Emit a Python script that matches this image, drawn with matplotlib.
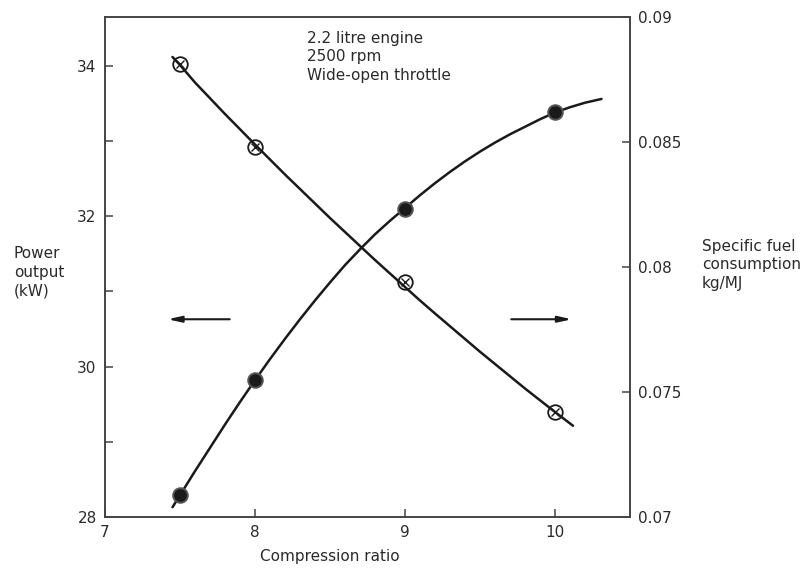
import matplotlib
matplotlib.use("Agg")
import matplotlib.pyplot as plt

# Measured points
compression_ratio = [7.5, 8.0, 9.0, 10.0]
power_kw = [28.29, 29.82, 32.10, 33.39]
sfc_kg_per_mj = [0.0881, 0.0848, 0.0794, 0.0742]

# Faired curves through the measurements
power_curve_x = [7.45, 7.5, 7.6, 7.7, 7.8, 7.9, 8.0, 8.1, 8.2, 8.3, 8.4, 8.5, 8.6, 8.7,
                 8.8, 8.9, 9.0, 9.1, 9.2, 9.3, 9.4, 9.5, 9.6, 9.7, 9.8, 9.9, 10.0,
                 10.1, 10.2, 10.31]
power_curve_y = [28.13, 28.29, 28.61, 28.92, 29.23, 29.53, 29.82, 30.10, 30.37, 30.63,
                 30.88, 31.12, 31.35, 31.56, 31.76, 31.94, 32.11, 32.28, 32.44, 32.59,
                 32.73, 32.86, 32.98, 33.09, 33.19, 33.29, 33.38, 33.45, 33.51, 33.56]
sfc_curve_x = [7.45, 7.5, 7.6, 7.7, 7.8, 7.9, 8.0, 8.1, 8.2, 8.3, 8.4, 8.5, 8.6, 8.7,
               8.8, 8.9, 9.0, 9.1, 9.2, 9.3, 9.4, 9.5, 9.6, 9.7, 9.8, 9.9, 10.0, 10.12]
sfc_curve_y = [0.08840, 0.08808, 0.08738, 0.08675, 0.08612, 0.08551, 0.08490, 0.08430,
               0.08370, 0.08312, 0.08254, 0.08196, 0.08140, 0.08084, 0.08028, 0.07974,
               0.07920, 0.07866, 0.07814, 0.07763, 0.07712, 0.07661, 0.07612, 0.07563,
               0.07514, 0.07467, 0.07420, 0.07365]

x_ticks = [7, 8, 9, 10]
power_ticks = [28, 29, 30, 31, 32, 33, 34]
power_tick_labels = ["28", "", "30", "", "32", "", "34"]
sfc_ticks = [0.07, 0.075, 0.08, 0.085, 0.09]
sfc_tick_labels = ["0.07", "0.075", "0.08", "0.085", "0.09"]

plt.rcParams["font.family"] = ["DejaVu Sans"]
ink = "#1a1a1a"
text_col = "#2a2a2a"
fs = 11

fig = plt.figure(figsize=(8.12, 5.73), dpi=100)
ax = fig.add_axes([105 / 812, 1 - 517 / 573, (630 - 105) / 812, (517 - 17) / 573])
ax2 = ax.twinx()

ax.set_xlim(7, 10.5)
ax.set_ylim(28, 34.65)
ax2.set_ylim(0.07, 0.09)

for a in (ax, ax2):
    for s in a.spines.values():
        s.set_linewidth(1.2)
        s.set_color("#444444")

ax.set_xticks(x_ticks)
ax.set_xticklabels([str(t) for t in x_ticks])
ax.set_yticks(power_ticks)
ax.set_yticklabels(power_tick_labels)
ax2.set_yticks(sfc_ticks)
ax2.set_yticklabels(sfc_tick_labels)

ax.tick_params(axis="both", direction="in", length=6, width=1.1, color="#444444",
               labelsize=fs, labelcolor=text_col, pad=6)
ax2.tick_params(axis="y", direction="in", length=6, width=1.1, color="#444444",
                labelsize=fs, labelcolor=text_col, pad=6)

# Power output curve (left axis)
ax.plot(power_curve_x, power_curve_y, color=ink, lw=1.8, solid_capstyle="round",
        solid_joinstyle="round", zorder=3)
ax.plot(compression_ratio, power_kw, linestyle="none", marker="o", markersize=10.5,
        markerfacecolor=ink, markeredgecolor="#555555", markeredgewidth=1.4, zorder=4)

# Specific fuel consumption curve (right axis)
ax2.plot(sfc_curve_x, sfc_curve_y, color=ink, lw=1.8, solid_capstyle="round",
         solid_joinstyle="round", zorder=3)
ax2.plot(compression_ratio, sfc_kg_per_mj, linestyle="none", marker="o", markersize=10.5,
         markerfacecolor="none", markeredgecolor=ink, markeredgewidth=1.3, zorder=4)
ax2.plot(compression_ratio, sfc_kg_per_mj, linestyle="none", marker="x", markersize=5.5,
         markeredgecolor=ink, markeredgewidth=1.0, zorder=4)

# Arrows pointing to the relevant axis
arrow_style = dict(arrowstyle="-|>,head_length=0.8,head_width=0.18", color=ink, lw=1.5)
ax.annotate("", xy=(7.40, 30.63), xytext=(7.85, 30.63), arrowprops=arrow_style)
ax.annotate("", xy=(10.13, 30.63), xytext=(9.69, 30.63), arrowprops=arrow_style)

# Operating conditions
ax.text((307 - 105) / 525, 1 - (57 - 17) / 500,
        "2.2 litre engine\n2500 rpm\nWide-open throttle",
        transform=ax.transAxes, ha="left", va="center", fontsize=fs,
        color=text_col, linespacing=1.3)

# Axis titles
fig.text(330 / 812, 1 - 556 / 573, "Compression ratio", ha="center", va="center",
         fontsize=fs, color=text_col)
fig.text(14 / 812, 1 - 272 / 573, "Power\noutput\n(kW)", ha="left", va="center",
         fontsize=fs, color=text_col, linespacing=1.3)
fig.text(702 / 812, 1 - 265 / 573, "Specific fuel\nconsumption\nkg/MJ", ha="left",
         va="center", fontsize=fs, color=text_col, linespacing=1.3)

fig.savefig("out.png", dpi=100)
